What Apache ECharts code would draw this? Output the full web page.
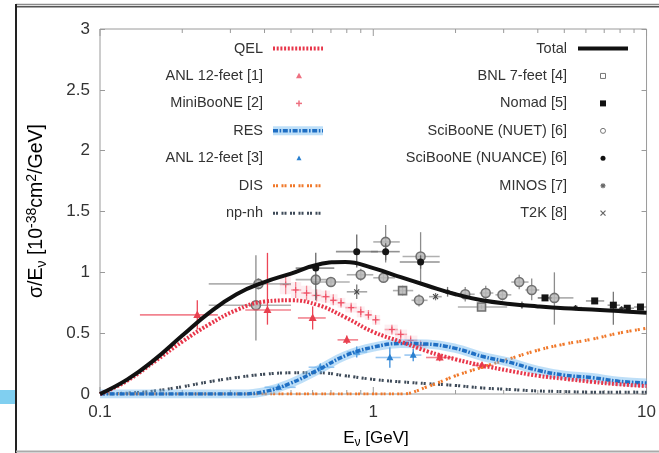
<!DOCTYPE html>
<html>
<head>
<meta charset="utf-8">
<script src="https://cdn.jsdelivr.net/npm/echarts@6/dist/echarts.min.js"></script>
<style>
  html, body { margin: 0; padding: 0; background: #ffffff; }
  #chart { width: 659px; height: 453px; }
</style>
</head>
<body>
<div id="chart"></div>
<script>
// ---- model curves: sigma/E in 1e-38 cm^2/GeV on a log-spaced energy grid (GeV) ----
const energyGeV = [0.1, 0.126, 0.158, 0.2, 0.25, 0.316, 0.4, 0.5, 0.63, 0.79, 1.0, 1.26, 1.58, 2.0, 2.5, 3.16, 4.0, 5.0, 6.3, 7.9, 10];
const totalXs = [0, 0.12, 0.28, 0.48, 0.665, 0.82, 0.92, 0.99, 1.065, 1.085, 1.035, 0.96, 0.89, 0.82, 0.77, 0.74, 0.72, 0.705, 0.695, 0.682, 0.668];
const qelXs   = [0, 0.11, 0.265, 0.43, 0.57, 0.69, 0.76, 0.77, 0.73, 0.63, 0.51, 0.43, 0.35, 0.285, 0.235, 0.19, 0.15, 0.125, 0.10, 0.08, 0.065];
const resXs   = [0, 0, 0, 0, 0, 0, 0.02, 0.09, 0.20, 0.315, 0.385, 0.415, 0.41, 0.375, 0.31, 0.26, 0.195, 0.155, 0.135, 0.105, 0.09];
const disXs   = [0, 0, 0, 0, 0, 0, 0, 0, 0, 0, 0, 0, 0.06, 0.15, 0.22, 0.29, 0.36, 0.41, 0.45, 0.50, 0.54];
const npnhXs  = [0, 0.008, 0.025, 0.06, 0.10, 0.135, 0.163, 0.174, 0.175, 0.15, 0.12, 0.10, 0.085, 0.07, 0.05, 0.037, 0.025, 0.02, 0.015, 0.015, 0.015];

// ---- measurements: [E, sigma/E, E low, E high, sigma/E low, sigma/E high] ----
const anl12ftQel = [
  [0.227, 0.65, 0.14, 0.27, 0.53, 0.77],
  [0.41, 0.69, 0.34, 0.50, 0.57, 1.16],
  [0.60, 0.625, 0.53, 0.67, 0.53, 0.72],
  [0.80, 0.445, 0.74, 0.88, 0.41, 0.48],
  [1.75, 0.30, 1.56, 1.96, 0.27, 0.33],
  [2.50, 0.235, 2.30, 2.75, 0.21, 0.26]
];
const miniBooNE = [
  [0.478, 0.90, 0.455, 0.50, 0.82, 0.98],
  [0.52, 0.855, 0.50, 0.545, 0.79, 0.92],
  [0.57, 0.83, 0.545, 0.595, 0.77, 0.89],
  [0.62, 0.81, 0.595, 0.645, 0.76, 0.86],
  [0.67, 0.80, 0.645, 0.695, 0.75, 0.85],
  [0.714, 0.77, 0.695, 0.74, 0.73, 0.82],
  [0.762, 0.75, 0.74, 0.79, 0.71, 0.79],
  [0.83, 0.71, 0.79, 0.87, 0.67, 0.75],
  [0.90, 0.675, 0.87, 0.93, 0.63, 0.72],
  [0.96, 0.65, 0.93, 0.99, 0.61, 0.69],
  [1.02, 0.61, 0.99, 1.06, 0.57, 0.65],
  [1.17, 0.53, 1.10, 1.23, 0.49, 0.57],
  [1.26, 0.49, 1.20, 1.33, 0.45, 0.53],
  [1.37, 0.44, 1.30, 1.45, 0.40, 0.48],
  [1.49, 0.40, 1.42, 1.57, 0.36, 0.44]
];
const anl12ftRes = [
  [0.45, 0.055, 0.40, 0.52, 0.03, 0.08],
  [0.64, 0.22, 0.58, 0.72, 0.19, 0.25],
  [0.87, 0.345, 0.80, 0.95, 0.30, 0.39],
  [1.15, 0.30, 1.02, 1.26, 0.215, 0.385],
  [1.40, 0.32, 1.30, 1.50, 0.27, 0.37]
];
const bnl7ft = [
  [1.28, 0.85, 1.18, 1.40, 0.81, 0.89],
  [2.49, 0.715, 2.04, 3.09, 0.70, 0.73]
];
const nomad = [
  [4.25, 0.79, 4.00, 4.50, 0.78, 0.80],
  [6.46, 0.765, 6.00, 7.00, 0.755, 0.775],
  [7.56, 0.73, 7.20, 8.00, 0.57, 0.84],
  [8.50, 0.705, 8.00, 9.00, 0.69, 0.72],
  [9.50, 0.715, 9.00, 10.0, 0.70, 0.73]
];
const sciBooNEnuet = [
  [0.38, 0.905, 0.25, 0.50, 0.86, 0.95],
  [0.372, 0.73, 0.25, 0.50, 0.44, 1.14],
  [0.616, 0.94, 0.52, 0.72, 0.90, 0.98],
  [0.70, 0.92, 0.60, 0.82, 0.88, 0.96],
  [0.90, 0.98, 0.80, 1.00, 0.93, 1.03],
  [1.09, 0.955, 1.00, 1.20, 0.92, 0.99],
  [1.11, 1.25, 1.00, 1.25, 1.08, 1.39],
  [1.47, 0.77, 1.38, 1.58, 0.72, 0.82],
  [1.49, 1.13, 1.28, 1.75, 0.90, 1.33],
  [2.17, 0.82, 2.00, 2.35, 0.76, 0.88],
  [2.58, 0.83, 2.45, 2.75, 0.77, 0.89],
  [2.97, 0.815, 2.80, 3.20, 0.77, 0.86],
  [3.42, 0.92, 3.20, 3.70, 0.86, 0.98],
  [3.80, 0.855, 3.60, 4.05, 0.77, 0.95],
  [4.60, 0.79, 4.00, 5.40, 0.57, 1.00]
];
const sciBooNEnuance = [
  [0.616, 1.035, 0.52, 0.72, 0.77, 1.16],
  [0.87, 1.17, 0.73, 1.04, 1.04, 1.31],
  [1.11, 1.17, 0.98, 1.25, 1.10, 1.24],
  [1.49, 1.085, 1.25, 1.75, 1.03, 1.14]
];
const minos = [
  [1.87, 0.84, 1.80, 1.95, 0.80, 0.88],
  [3.50, 0.73, 3.30, 3.70, 0.70, 0.76],
  [5.50, 0.71, 5.20, 5.80, 0.69, 0.73],
  [8.10, 0.70, 7.80, 8.40, 0.68, 0.72]
];
const t2k = [
  [0.87, 0.84, 0.80, 0.95, 0.78, 0.90],
  [1.69, 0.80, 1.60, 1.78, 0.77, 0.83]
];

// ---- axis ticks ----
const xMajorTicks = [0.1, 1, 10];
const xMinorTicks = [0.2, 0.3, 0.4, 0.5, 0.6, 0.7, 0.8, 0.9, 2, 3, 4, 5, 6, 7, 8, 9];
const yTickStep = 0.5;

// ---- legend entries ----
const legendLeft = ['QEL', 'ANL 12-feet [1]', 'MiniBooNE [2]', 'RES', 'ANL 12-feet [3]', 'DIS', 'np-nh'];
const legendRight = ['Total', 'BNL 7-feet [4]', 'Nomad [5]', 'SciBooNE (NUET) [6]', 'SciBooNE (NUANCE) [6]', 'MINOS [7]', 'T2K [8]'];

const FONT = "'Liberation Sans', Arial, Helvetica, sans-serif";
const zip = (xs, ys) => xs.map((x, i) => [x, ys[i]]);

// line styles for the model curves
const styles = {
  total: { color: '#111111', width: 4, type: 'solid' },
  qel:   { color: '#e8364a', width: 4, type: [2, 1.7] },
  resHalo: { color: 'rgba(110,185,240,0.45)', width: 9, type: 'solid' },
  res:   { color: '#1f6fc4', width: 3.5, type: [5, 1.6, 1.6, 1.6] },
  dis:   { color: '#f0782a', width: 3, type: [2, 1, 2, 3.5] },
  npnh:  { color: '#3e4a58', width: 3, type: [2, 1, 2, 3.5] }
};

// marker shapes shared by the plot and the legend
function marker(kind, x, y, s, st) {
  const h = s / 2;
  switch (kind) {
    case 'triangle':
      return { type: 'polygon', shape: { points: [[x, y - h * 1.1], [x - h, y + h * 0.75], [x + h, y + h * 0.75]] }, style: st };
    case 'circle':
      return { type: 'circle', shape: { cx: x, cy: y, r: h }, style: st };
    case 'square':
      return { type: 'rect', shape: { x: x - h, y: y - h, width: s, height: s }, style: st };
    case 'plus':
      return { type: 'group', children: [
        { type: 'line', shape: { x1: x - h, y1: y, x2: x + h, y2: y }, style: st },
        { type: 'line', shape: { x1: x, y1: y - h, x2: x, y2: y + h }, style: st }] };
    case 'cross':
      return { type: 'group', children: [
        { type: 'line', shape: { x1: x - h, y1: y - h, x2: x + h, y2: y + h }, style: st },
        { type: 'line', shape: { x1: x - h, y1: y + h, x2: x + h, y2: y - h }, style: st }] };
    case 'star':
      return { type: 'group', children: [
        { type: 'line', shape: { x1: x - h, y1: y, x2: x + h, y2: y }, style: st },
        { type: 'line', shape: { x1: x, y1: y - h, x2: x, y2: y + h }, style: st },
        { type: 'line', shape: { x1: x - h * 0.7, y1: y - h * 0.7, x2: x + h * 0.7, y2: y + h * 0.7 }, style: st },
        { type: 'line', shape: { x1: x - h * 0.7, y1: y + h * 0.7, x2: x + h * 0.7, y2: y - h * 0.7 }, style: st }] };
  }
}

// how each data set is drawn
const pointLooks = {
  anlQel:  { marker: 'triangle', size: 8, mark: { fill: '#e8404f' }, vBar: '#ec4556', hBar: 'rgba(238,90,105,0.75)' },
  mb:      { marker: 'plus', size: 6, mark: { stroke: '#f05066', lineWidth: 1.1 }, vBar: 'rgba(240,90,105,0.7)', hBar: 'rgba(240,110,125,0.55)', box: 'rgba(245,150,165,0.16)' },
  anlRes:  { marker: 'triangle', size: 7, mark: { fill: '#2a80d0' }, vBar: '#3a8cda', hBar: 'rgba(110,175,235,0.7)' },
  bnl:     { marker: 'square', size: 8, mark: { fill: 'rgba(185,185,185,0.85)', stroke: '#707070', lineWidth: 1.6 }, vBar: '#8c8c8c', hBar: 'rgba(150,150,150,0.75)' },
  nomad:   { marker: 'square', size: 7, mark: { fill: '#151515' }, vBar: '#777', hBar: 'rgba(120,120,120,0.7)' },
  nuet:    { marker: 'circle', size: 9, mark: { fill: 'rgba(185,185,185,0.85)', stroke: '#707070', lineWidth: 1.6 }, vBar: '#8c8c8c', hBar: 'rgba(150,150,150,0.75)' },
  nuance:  { marker: 'circle', size: 7, mark: { fill: '#151515' }, vBar: '#666', hBar: 'rgba(110,110,110,0.75)' },
  minos:   { marker: 'star', size: 5, mark: { stroke: '#333', lineWidth: 1.2 }, vBar: '#777', hBar: 'rgba(130,130,130,0.7)' },
  t2k:     { marker: 'cross', size: 5, mark: { stroke: '#444', lineWidth: 1.2 }, vBar: '#777', hBar: 'rgba(130,130,130,0.7)' }
};

function curveSeries(name, ys, ls, z) {
  return {
    name, type: 'line', data: zip(energyGeV, ys), symbol: 'none', showSymbol: false,
    smooth: 0.45, silent: true, z,
    lineStyle: { color: ls.color, width: ls.width, type: ls.type, cap: 'butt' }
  };
}

function pointSeries(name, data, look, z) {
  return {
    name, type: 'custom', data, silent: true, z,
    encode: { x: 0, y: 1 },
    renderItem(params, api) {
      const E = api.value(0), v = api.value(1);
      const c = api.coord([E, v]);
      const xl = api.coord([api.value(2), v])[0];
      const xh = api.coord([api.value(3), v])[0];
      const yl = api.coord([E, api.value(4)])[1];
      const yh = api.coord([E, api.value(5)])[1];
      const kids = [];
      if (look.box) {
        kids.push({ type: 'rect', shape: { x: xl, y: yh, width: xh - xl, height: yl - yh }, style: { fill: look.box } });
      }
      kids.push({ type: 'line', shape: { x1: xl, y1: c[1], x2: xh, y2: c[1] }, style: { stroke: look.hBar, lineWidth: 1.6 } });
      kids.push({ type: 'line', shape: { x1: c[0], y1: yl, x2: c[0], y2: yh }, style: { stroke: look.vBar, lineWidth: 1.3 } });
      kids.push(marker(look.marker, c[0], c[1], look.size, look.mark));
      return { type: 'group', children: kids };
    }
  };
}

// tick marks on the log energy axis, drawn inward at bottom and top
const tickSeries = {
  name: 'xticks', type: 'custom', silent: true, z: 1,
  data: xMajorTicks.map(v => [v, 0, 1]).concat(xMinorTicks.map(v => [v, 0, 0])),
  encode: { x: 0, y: 1 },
  renderItem(params, api) {
    const len = api.value(2) ? 7 : 4;
    const b = api.coord([api.value(0), 0]);
    const t = api.coord([api.value(0), 3]);
    const st = { stroke: '#9a9a9a', lineWidth: 1 };
    return { type: 'group', children: [
      { type: 'line', shape: { x1: b[0], y1: b[1], x2: b[0], y2: b[1] - len }, style: st },
      { type: 'line', shape: { x1: t[0], y1: t[1], x2: t[0], y2: t[1] + len }, style: st }
    ] };
  }
};

// legend drawn as text + samples in two right-aligned columns
const legendGraphics = [];
const rowY = i => 48.5 + 27.45 * i;
const leftTextX = 263, leftSample = [273, 323], leftMark = 299;
const rightTextX = 567, rightSample = [578, 628], rightMark = 603;
const txtStyle = (t, x, y) => ({ type: 'text', x, y, style: { text: t, fill: '#333', font: `14.5px ${FONT}`, align: 'right', verticalAlign: 'middle' } });
function sampleLine(x1, x2, y, ls) {
  return { type: 'line', shape: { x1, y1: y, x2, y2: y }, style: { stroke: ls.color, lineWidth: ls.width, lineDash: Array.isArray(ls.type) ? ls.type : null } };
}
legendLeft.forEach((t, i) => legendGraphics.push(txtStyle(t, leftTextX, rowY(i))));
legendRight.forEach((t, i) => legendGraphics.push(txtStyle(t, rightTextX, rowY(i))));
legendGraphics.push(sampleLine(leftSample[0], leftSample[1], rowY(0), styles.qel));
legendGraphics.push(marker('triangle', leftMark, rowY(1), 6, { fill: '#ee7080' }));
legendGraphics.push(marker('plus', leftMark, rowY(2), 6, { stroke: '#ee7080', lineWidth: 1.5 }));
legendGraphics.push(sampleLine(leftSample[0], leftSample[1], rowY(3), styles.resHalo));
legendGraphics.push(sampleLine(leftSample[0], leftSample[1], rowY(3), styles.res));
legendGraphics.push(marker('triangle', leftMark, rowY(4), 5, { fill: '#2a80d0' }));
legendGraphics.push(sampleLine(leftSample[0], leftSample[1], rowY(5), styles.dis));
legendGraphics.push(sampleLine(leftSample[0], leftSample[1], rowY(6), styles.npnh));
legendGraphics.push(sampleLine(rightSample[0], rightSample[1], rowY(0), styles.total));
legendGraphics.push(marker('square', rightMark, rowY(1), 5, { fill: '#fff', stroke: '#777', lineWidth: 1 }));
legendGraphics.push(marker('square', rightMark, rowY(2), 6, { fill: '#111' }));
legendGraphics.push(marker('circle', rightMark, rowY(3), 5, { fill: '#fff', stroke: '#777', lineWidth: 1 }));
legendGraphics.push(marker('circle', rightMark, rowY(4), 5, { fill: '#111' }));
legendGraphics.push(marker('star', rightMark, rowY(5), 5, { stroke: '#666', lineWidth: 1.2 }));
legendGraphics.push(marker('cross', rightMark, rowY(6), 5, { stroke: '#666', lineWidth: 1.2 }));

// axis titles with sub/superscripts
function richTitle(main, small) {
  return {
    m:   { fontSize: main, fontFamily: FONT, color: '#333', lineHeight: main + 5, verticalAlign: 'middle' },
    sub: { fontSize: small, fontFamily: FONT, color: '#333', lineHeight: small - 2, verticalAlign: 'bottom' },
    sup: { fontSize: small, fontFamily: FONT, color: '#333', lineHeight: small - 2, verticalAlign: 'top' }
  };
}
const xTitle = { type: 'text', x: 376, y: 438, style: {
  text: '{m|E}{sub|ν}{m| [GeV]}', rich: richTitle(17, 12), align: 'center', verticalAlign: 'middle' } };
const yTitle = { type: 'text', x: 37, y: 211, rotation: Math.PI / 2, style: {
  text: '{m|σ/E}{sub|ν}{m| [10}{sup|-38}{m|cm}{sup|2}{m|/GeV]}', rich: richTitle(19.5, 14), align: 'center', verticalAlign: 'middle' } };

// surrounding frame
const frame = [
  { type: 'rect', shape: { x: 0, y: 390, width: 15, height: 14 }, style: { fill: '#80cff0' } },
  { type: 'line', shape: { x1: 16, y1: 4.5, x2: 659, y2: 4.5 }, style: { stroke: '#8a8a8a', lineWidth: 1.5 } },
  { type: 'line', shape: { x1: 16, y1: 6.8, x2: 659, y2: 6.8 }, style: { stroke: '#555', lineWidth: 1.5 } },
  { type: 'line', shape: { x1: 16, y1: 4, x2: 16, y2: 453 }, style: { stroke: '#222', lineWidth: 2 } },
  { type: 'line', shape: { x1: 16, y1: 451.5, x2: 659, y2: 451.5 }, style: { stroke: '#aaa', lineWidth: 2 } }
];

const yAxisBase = {
  type: 'value', min: 0, max: 3, interval: yTickStep,
  axisLine: { show: false }, splitLine: { show: false },
  axisTick: { show: true, inside: true, length: 5, lineStyle: { color: '#9a9a9a' } }
};

const chart = echarts.init(document.getElementById('chart'), null, { renderer: 'canvas' });
chart.setOption({
  animation: false,
  backgroundColor: '#ffffff',
  grid: { left: 100, right: 9, top: 29, bottom: 59, show: true, borderColor: '#9a9a9a', borderWidth: 1, backgroundColor: 'transparent' },
  xAxis: {
    type: 'log', logBase: 10, min: 0.1, max: 10,
    axisLine: { show: false }, axisTick: { show: false }, splitLine: { show: false }, minorTick: { show: false },
    axisLabel: { fontSize: 17, fontFamily: FONT, color: '#333', margin: 10,
      formatter: v => String(+Number(v).toPrecision(3)) }
  },
  yAxis: [
    Object.assign({}, yAxisBase, { position: 'left',
      axisLabel: { fontSize: 17, fontFamily: FONT, color: '#333', margin: 10 } }),
    Object.assign({}, yAxisBase, { position: 'right', axisLabel: { show: false } })
  ],
  graphic: { elements: frame.concat(legendGraphics, [xTitle, yTitle]) },
  series: [
    tickSeries,
    pointSeries('MiniBooNE [2]', miniBooNE, pointLooks.mb, 2),
    pointSeries('BNL 7-feet [4]', bnl7ft, pointLooks.bnl, 3),
    pointSeries('SciBooNE (NUET) [6]', sciBooNEnuet, pointLooks.nuet, 3),
    pointSeries('SciBooNE (NUANCE) [6]', sciBooNEnuance, pointLooks.nuance, 4),
    pointSeries('Nomad [5]', nomad, pointLooks.nomad, 4),
    pointSeries('MINOS [7]', minos, pointLooks.minos, 4),
    pointSeries('T2K [8]', t2k, pointLooks.t2k, 4),
    pointSeries('ANL 12-feet [1]', anl12ftQel, pointLooks.anlQel, 4),
    pointSeries('ANL 12-feet [3]', anl12ftRes, pointLooks.anlRes, 4),
    curveSeries('np-nh', npnhXs, styles.npnh, 5),
    curveSeries('DIS', disXs, styles.dis, 5),
    curveSeries('RES halo', resXs, styles.resHalo, 5),
    curveSeries('RES', resXs, styles.res, 6),
    curveSeries('QEL', qelXs, styles.qel, 6),
    curveSeries('Total', totalXs, styles.total, 7)
  ]
});
</script>
</body>
</html>
